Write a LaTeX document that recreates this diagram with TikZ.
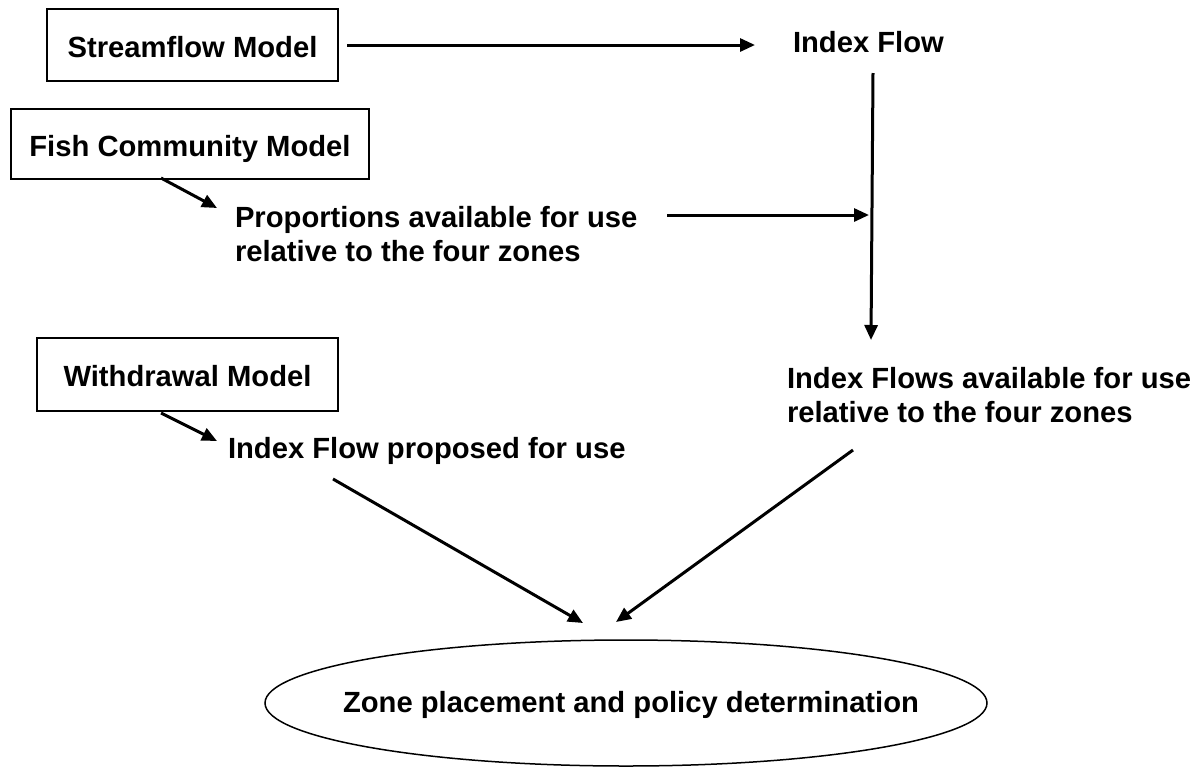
\documentclass[tikz,border=0pt]{standalone}
\usepackage{fontspec}
\setmainfont{Liberation Sans}
\usetikzlibrary{arrows.meta}
\begin{document}
\begin{tikzpicture}[x=1pt,y=-1pt,
  every node/.style={font=\fontsize{29.2}{34}\selectfont\bfseries, inner sep=0pt, outer sep=0pt},
  modelbox/.style={draw, line width=2pt, text height=24pt, text depth=0pt},
  label/.style={align=left},
  arr/.style={line width=3pt, -{Triangle[length=15pt,width=13pt]}},
]
\useasboundingbox (0,0) rectangle (1202,772);
% boxes
\node[modelbox, minimum width=291pt, minimum height=72pt] (sm) at (192.5,45) {Streamflow Model};
\node[modelbox, minimum width=358pt, minimum height=70pt] (fcm) at (190,144) {Fish Community Model};
\node[modelbox, minimum width=301pt, minimum height=73pt] (wm) at (187.5,374.5) {Withdrawal Model};
% texts
\node[anchor=base west] (if) at (793,52) {Index Flow};
\node[label, anchor=north west] (prop) at (235,206) {Proportions available for use\\relative to the four zones};
\node[label, anchor=north west] (ifs) at (787,367) {Index Flows available for use\\relative to the four zones};
\node[anchor=base west] (ifp) at (228,458) {Index Flow proposed for use};
\node[text height=20pt, text depth=0pt] (zone) at (631,702) {Zone placement and policy determination};
\draw[line width=1.5pt] (626,703) ellipse [x radius=361, y radius=63];
% connector end points
\coordinate (a1s) at (347,45);  \coordinate (a1e) at (755,45);
\coordinate (v1s) at (873,73);  \coordinate (v1e) at (871,340);
\coordinate (p1s) at (667,215); \coordinate (p1e) at (869,215);
\coordinate (f1s) at (161,178); \coordinate (f1e) at (217,208);
\coordinate (w1s) at (161,413); \coordinate (w1e) at (217,441);
\coordinate (l1s) at (333,479); \coordinate (l1e) at (583,623);
\coordinate (r1s) at (853,450); \coordinate (r1e) at (616,622);
\draw[arr] (a1s) -- (a1e);
\draw[arr] (v1s) -- (v1e);
\draw[arr] (p1s) -- (p1e);
\draw[arr] (f1s) -- (f1e);
\draw[arr] (w1s) -- (w1e);
\draw[arr] (l1s) -- (l1e);
\draw[arr] (r1s) -- (r1e);
\end{tikzpicture}
\end{document}
